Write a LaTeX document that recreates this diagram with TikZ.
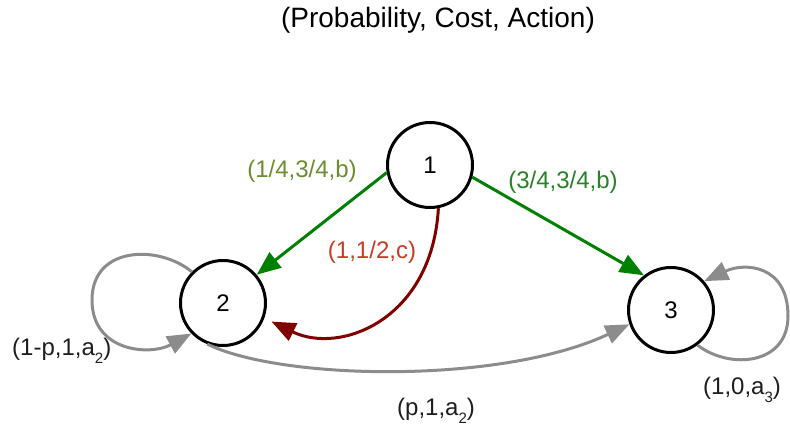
\documentclass[tikz,border=0pt]{standalone}
\usepackage{fontspec}
\setmainfont{Liberation Sans}
\usetikzlibrary{arrows.meta}
\definecolor{edgegreen}{RGB}{0,128,0}
\definecolor{lblolive}{RGB}{110,140,50}
\definecolor{lblgreen}{RGB}{40,130,40}
\definecolor{edgered}{RGB}{128,0,0}
\definecolor{lblred}{RGB}{200,60,35}
\definecolor{edgegray}{RGB}{140,140,140}
\definecolor{lbldark}{RGB}{30,30,30}
\newcommand\mysub[1]{\raisebox{-0.35em}{\fontsize{15}{15}\selectfont #1}}
\tikzset{
  state/.style={circle, draw=black, line width=3pt, minimum size=85pt, inner sep=0pt, fill=white, font=\fontsize{24}{28}\selectfont},
  edge/.style={line width=3pt, -{Triangle[length=24pt,width=19pt]}},
  lbl/.style={font=\fontsize{24}{28}\selectfont, inner sep=0pt},
}
\begin{document}
\begin{tikzpicture}[x=1pt,y=-1pt]
\useasboundingbox (0,0) rectangle (790,433);
\node[font=\fontsize{28}{32}\selectfont] (title) at (438,20) {(Probability, Cost, Action)};

\node[state] (n1) at (430,165) {1};
\node[state] (n2) at (223,303) {2};
\node[state] (n3) at (671,310) {3};

% green edges
\draw[edge, draw=edgegreen] (n1.190) -- (n2.40);
\draw[edge, draw=edgegreen] (n1.344) -- (n3.128);
% red curve
\draw[edge, draw=edgered, shorten >=8pt] (n1.281) .. controls (432,320) and (340,355) .. (n2.-20);
% gray self loop on 2
\coordinate (l2) at (92,300);
\draw[line width=3pt, draw=edgegray] (n2.135) .. controls (160,245) and (92,245) .. (l2);
\draw[edge, draw=edgegray] (l2) .. controls (92,352) and (150,356) .. (n2.224);
% gray 2 -> 3
\draw[edge, draw=edgegray] (n2.249) .. controls (280,380) and (500,385) .. (n3.199);
% gray self loop on 3
\coordinate (l3) at (788,316);
\draw[line width=3pt, draw=edgegray] (n3.307) .. controls (730,370) and (788,365) .. (l3);
\draw[edge, draw=edgegray] (l3) .. controls (788,265) and (745,262) .. (n3.41);

% labels
\node[lbl, text=lblolive] (t12) at (302,171) {(1/4,3/4,b)};
\node[lbl, text=lblgreen] (t13) at (563,182) {(3/4,3/4,b)};
\node[lbl, text=lblred] (t12r) at (372,252) {(1,1/2,c)};
\node[lbl, text=lbldark, anchor=west] (t22) at (12,351) {(1-p,1,a\mysub{2})};
\node[lbl, text=lbldark, anchor=west] (t33) at (703,390) {(1,0,a\mysub{3})};
\node[lbl, text=lbldark, anchor=west] (t23) at (397,411) {(p,1,a\mysub{2})};
\end{tikzpicture}
\end{document}
